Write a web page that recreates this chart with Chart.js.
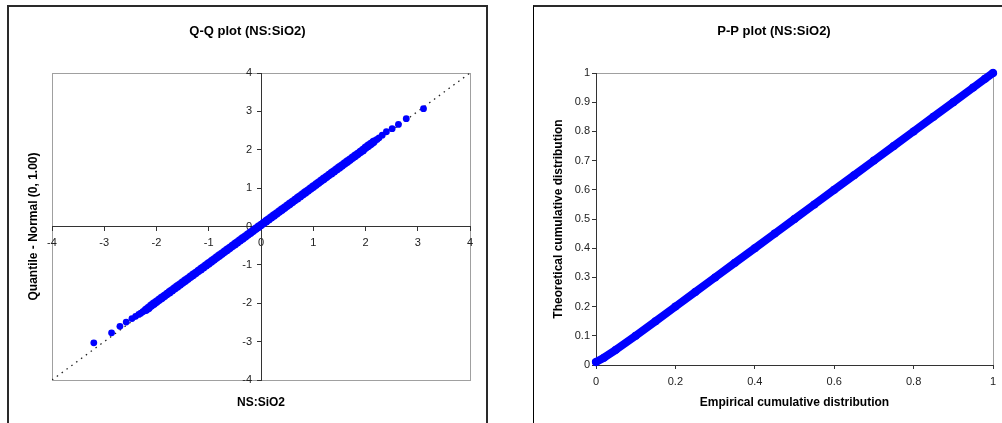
<!DOCTYPE html>
<html>
<head>
<meta charset="utf-8">
<script src="https://cdn.jsdelivr.net/npm/chart.js@4.4.1/dist/chart.umd.min.js"></script>
<style>
    body { margin: 0; background: #fff; overflow: hidden; width: 1002px; height: 423px; position: relative; }
    .box { position: absolute; box-sizing: border-box; }
    .box--qq { left: 7px; top: 5px; width: 481px; height: 440px; border: 2px solid #2a2a2a; }
    .box--pp { left: 533px; top: 5px; width: 500px; height: 440px; border-top: 2px solid #2a2a2a; border-left: 1px solid #000; }
    canvas { position: absolute; }
    #chart-qq { left: 8px; top: 6px; }
    #chart-pp { left: 535px; top: 6px; }
</style>
</head>
<body>
<div class="box box--qq"></div>
<div class="box box--pp"></div>
<canvas id="chart-qq" width="479" height="417"></canvas>
<canvas id="chart-pp" width="478" height="417"></canvas>
<script>
// Q-Q plot: dense middle part of the sample (x) vs normal quantiles (y)
const qqCoreX = [-2.20, -2.15, -2.10, -2.05, -2.00, -1.95, -1.90, -1.85, -1.80, -1.75, -1.70, -1.65, -1.60, -1.55, -1.50, -1.45,
    -1.40, -1.35, -1.30, -1.25, -1.20, -1.15, -1.10, -1.05, -1.00, -0.95, -0.90, -0.85, -0.80, -0.75, -0.70, -0.65,
    -0.60, -0.55, -0.50, -0.45, -0.40, -0.35, -0.30, -0.25, -0.20, -0.15, -0.10, -0.05, 0.00, 0.05, 0.10, 0.15,
    0.20, 0.25, 0.30, 0.35, 0.40, 0.45, 0.50, 0.55, 0.60, 0.65, 0.70, 0.75, 0.80, 0.85, 0.90, 0.95,
    1.00, 1.05, 1.10, 1.15, 1.20, 1.25, 1.30, 1.35, 1.40, 1.45, 1.50, 1.55, 1.60, 1.65, 1.70, 1.75,
    1.80, 1.85, 1.90, 1.95, 2.00, 2.05, 2.10, 2.15];
const qqCoreY = [-2.17, -2.12, -2.06, -2.01, -1.96, -1.91, -1.86, -1.81, -1.76, -1.71, -1.66, -1.61, -1.56, -1.51, -1.46, -1.41,
    -1.36, -1.31, -1.26, -1.21, -1.16, -1.11, -1.06, -1.01, -0.96, -0.91, -0.86, -0.81, -0.76, -0.71, -0.66, -0.61,
    -0.56, -0.51, -0.46, -0.41, -0.36, -0.31, -0.26, -0.21, -0.16, -0.11, -0.06, -0.01, 0.04, 0.09, 0.14, 0.19,
    0.24, 0.29, 0.34, 0.39, 0.44, 0.49, 0.54, 0.59, 0.64, 0.69, 0.74, 0.79, 0.84, 0.89, 0.94, 0.99,
    1.04, 1.09, 1.14, 1.19, 1.24, 1.29, 1.34, 1.39, 1.44, 1.49, 1.54, 1.59, 1.64, 1.69, 1.74, 1.79,
    1.84, 1.89, 1.94, 1.99, 2.05, 2.10, 2.15, 2.20];
// sparse tails
const qqTailX = [-3.20, -2.86, -2.70, -2.58, -2.47, -2.40, -2.34, -2.30, -2.26, -2.23,
    2.18, 2.22, 2.26, 2.32, 2.40, 2.51, 2.63, 2.78, 3.11];
const qqTailY = [-3.03, -2.77, -2.60, -2.49, -2.40, -2.34, -2.29, -2.26, -2.22, -2.19,
    2.24, 2.27, 2.31, 2.38, 2.47, 2.55, 2.66, 2.81, 3.07];
const qqRefX = [-4, 4];
const qqRefY = [-4, 4];
const qqTicks = [-4, -3, -2, -1, 0, 1, 2, 3, 4];

// P-P plot: empirical vs theoretical cumulative distribution
const ppX = [0, 0.02, 0.05, 0.10, 0.15, 0.20, 0.25, 0.30, 0.35, 0.40, 0.45, 0.50,
    0.55, 0.60, 0.65, 0.70, 0.75, 0.80, 0.85, 0.90, 0.95, 0.98, 1];
const ppY = [0.01, 0.025, 0.052, 0.10, 0.15, 0.20, 0.25, 0.30, 0.35, 0.40, 0.45, 0.50,
    0.55, 0.60, 0.65, 0.70, 0.75, 0.80, 0.85, 0.90, 0.95, 0.98, 1];

const FAMILY = "'Liberation Sans', Arial, sans-serif";
const BLUE = '#0000ff';
const AXIS = '#333';

Chart.defaults.font.family = FAMILY;
Chart.defaults.color = '#000';

const toPoints = (xs, ys) => xs.map((x, i) => ({ x: x, y: ys[i] }));
const plainNumber = (v) => String(Number(v.toFixed(2)));

// gray frame around the plot area, drawn first so axes sit on top
const plotFrame = {
    id: 'plotFrame',
    beforeDraw(chart) {
        const { ctx, chartArea: a } = chart;
        ctx.save();
        ctx.strokeStyle = '#a0a0a0';
        ctx.lineWidth = 1;
        ctx.strokeRect(Math.round(a.left) + 0.5, Math.round(a.top) + 0.5,
            Math.round(a.right - a.left), Math.round(a.bottom - a.top));
        ctx.restore();
    }
};

// move the left y axis so it crosses the x axis at 0
// (keep some width so the tick labels are not clipped away)
const crossAtZero = {
    id: 'crossAtZero',
    afterLayout(chart) {
        const y = chart.scales.y;
        const x0 = chart.scales.x.getPixelForValue(0);
        y.left = x0 - 40;
        y.right = x0;
        y.width = 40;
    }
};

const tickFont = { size: 11 };
const axisTitleFont = { size: 12, weight: 'bold' };
const titleFont = { size: 13, weight: 'bold' };

// an axis that only holds a title (or just reserves space)
const spacer = (size, horizontal, extra) => Object.assign({
    type: 'linear',
    display: true,
    ticks: { display: false },
    grid: { display: false },
    border: { display: false },
    afterFit: (s) => {
        if (horizontal) s.height = size; else s.width = size;
    }
}, extra);

const chartQQ = new Chart(document.getElementById('chart-qq'), {
    type: 'scatter',
    data: {
        datasets: [{
            label: 'core',
            data: toPoints(qqCoreX, qqCoreY),
            backgroundColor: BLUE,
            borderWidth: 0,
            pointRadius: 4.3,
            order: 1
        }, {
            label: 'tails',
            data: toPoints(qqTailX, qqTailY),
            backgroundColor: BLUE,
            borderWidth: 0,
            pointRadius: 3.4,
            order: 1
        }, {
            label: 'reference',
            data: toPoints(qqRefX, qqRefY),
            showLine: true,
            pointRadius: 0,
            borderColor: '#222',
            borderWidth: 1.3,
            borderDash: [1.5, 4.5],
            order: 2
        }]
    },
    options: {
        responsive: false,
        animation: false,
        events: [],
        plugins: {
            legend: { display: false },
            tooltip: { enabled: false },
            title: {
                display: true,
                text: 'Q-Q plot (NS:SiO2)',
                font: titleFont,
                color: '#000',
                padding: { top: 18, bottom: 33.4 }
            }
        },
        scales: {
            x: {
                type: 'linear',
                min: -4,
                max: 4,
                position: { y: 0 },
                afterFit: (s) => { s.height = 0; },
                afterBuildTicks: (s) => { s.ticks = qqTicks.map(v => ({ value: v })); },
                ticks: { font: tickFont, color: '#222', padding: 6, maxRotation: 0, autoSkip: false },
                grid: { drawOnChartArea: false, tickLength: 4, color: AXIS },
                border: { color: AXIS }
            },
            y: {
                type: 'linear',
                min: -4,
                max: 4,
                position: 'left',
                afterFit: (s) => { s.width = 0; },
                afterBuildTicks: (s) => { s.ticks = qqTicks.map(v => ({ value: v })); },
                ticks: { font: tickFont, color: '#222', padding: 5, autoSkip: false },
                grid: { drawOnChartArea: false, tickLength: 4, color: AXIS },
                border: { color: AXIS }
            },
            xt: spacer(43, true, {
                position: 'bottom',
                title: { display: true, text: 'NS:SiO2', font: axisTitleFont, color: '#000', padding: { top: 0, bottom: 13 } }
            }),
            yt: spacer(44, false, {
                position: 'left',
                title: { display: true, text: 'Quantile - Normal (0, 1.00)', font: axisTitleFont, color: '#000', padding: { top: 18, bottom: 0 } }
            }),
            yr: spacer(17, false, { position: 'right' })
        }
    },
    plugins: [plotFrame, crossAtZero]
});

const chartPP = new Chart(document.getElementById('chart-pp'), {
    type: 'scatter',
    data: {
        datasets: [{
            label: 'P-P',
            data: toPoints(ppX, ppY),
            showLine: true,
            backgroundColor: BLUE,
            borderColor: BLUE,
            borderWidth: 8,
            borderCapStyle: 'round',
            borderJoinStyle: 'round',
            pointRadius: 4,
            pointBorderWidth: 0,
            clip: false
        }]
    },
    options: {
        responsive: false,
        animation: false,
        events: [],
        plugins: {
            legend: { display: false },
            tooltip: { enabled: false },
            title: {
                display: true,
                text: 'P-P plot (NS:SiO2)',
                font: titleFont,
                color: '#000',
                padding: { top: 18, bottom: 33.4 }
            }
        },
        scales: {
            x: {
                type: 'linear',
                min: 0,
                max: 1,
                position: 'bottom',
                afterFit: (s) => { s.height = 58; },
                ticks: { stepSize: 0.2, font: tickFont, color: '#222', padding: 6, maxRotation: 0, callback: plainNumber },
                grid: { drawOnChartArea: false, tickLength: 4, color: AXIS },
                border: { color: AXIS },
                title: { display: true, text: 'Empirical cumulative distribution', font: axisTitleFont, color: '#000', padding: { top: 0, bottom: 13 } }
            },
            y: {
                type: 'linear',
                min: 0,
                max: 1,
                position: 'left',
                afterFit: (s) => { s.width = 61; },
                ticks: { stepSize: 0.1, font: tickFont, color: '#222', padding: 2, callback: plainNumber },
                grid: { drawOnChartArea: false, tickLength: 4, color: AXIS },
                border: { color: AXIS },
                title: { display: true, text: 'Theoretical cumulative distribution', font: axisTitleFont, color: '#000', padding: { top: 16.5, bottom: 0 } }
            },
            yr: spacer(20, false, { position: 'right' })
        }
    },
    plugins: [plotFrame]
});
</script>
</body>
</html>
